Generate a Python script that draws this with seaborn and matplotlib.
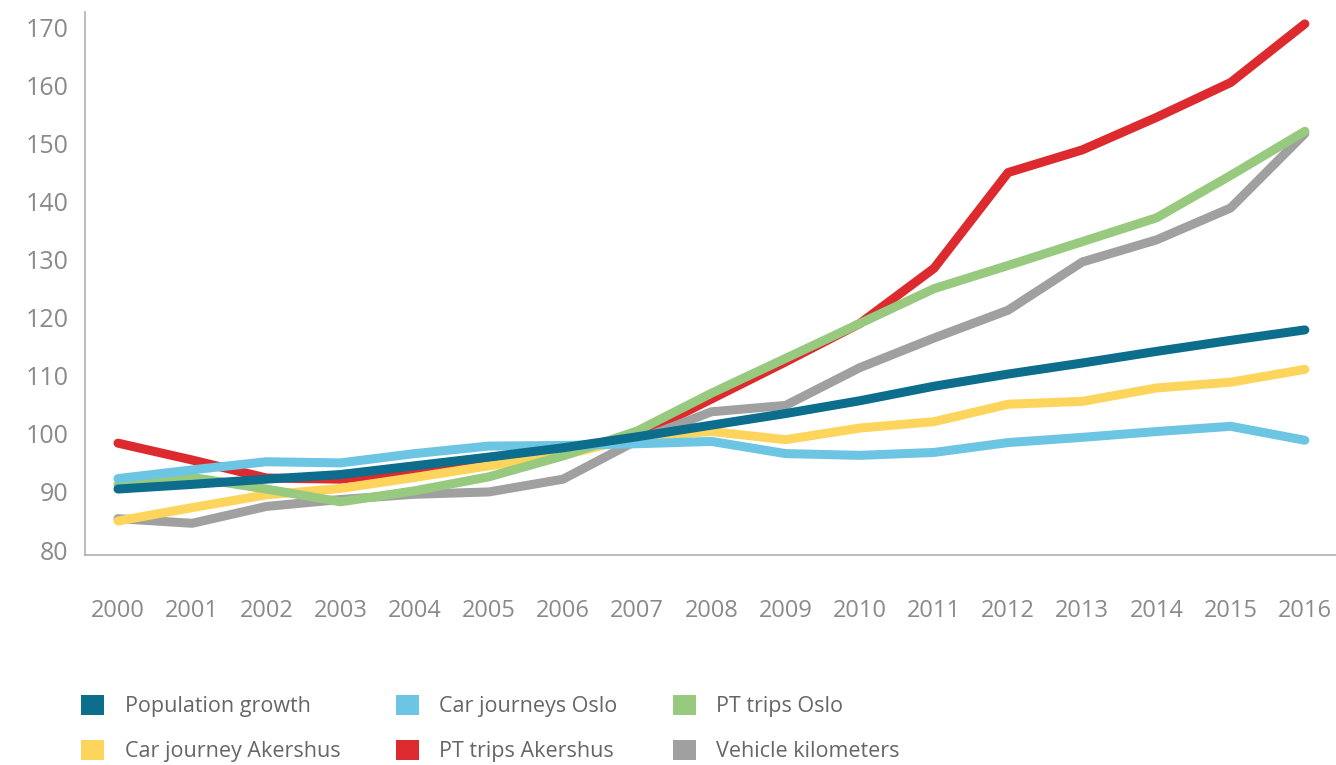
import matplotlib
matplotlib.use("Agg")
import matplotlib.pyplot as plt
from matplotlib.patches import Patch
import seaborn as sns
import pandas as pd

# Indeks (2007 = 100) for transport i Oslo og Akershus
years = list(range(2000, 2017))

population_growth = [90.5, 91.3, 92.2, 93.0, 94.5, 96.0, 97.6, 99.5, 101.5, 103.5,
                     105.7, 108.2, 110.3, 112.2, 114.2, 116.1, 117.9]
car_journeys_oslo = [92.3, 93.8, 95.2, 95.0, 96.6, 97.9, 98.0, 98.3, 98.7, 96.6,
                     96.3, 96.8, 98.5, 99.4, 100.4, 101.3, 98.9]
pt_trips_oslo = [91.2, 92.5, 90.5, 88.3, 90.2, 92.6, 96.2, 100.5, 107.0, 113.0,
                 119.0, 125.0, 129.0, 133.1, 137.2, 144.5, 152.1]
car_journey_akershus = [85.0, 87.3, 89.5, 90.6, 92.5, 94.5, 96.3, 99.5, 100.4, 99.0,
                        101.0, 102.1, 105.1, 105.6, 107.9, 108.9, 111.1]
pt_trips_akershus = [98.4, 95.5, 92.4, 92.2, 93.6, 95.5, 97.2, 99.6, 106.0, 112.4,
                     119.0, 128.5, 145.0, 148.9, 154.5, 160.5, 170.6]
vehicle_km = [85.4, 84.6, 87.5, 88.7, 89.6, 90.0, 92.2, 98.9, 103.8, 104.9,
              111.4, 116.5, 121.3, 129.6, 133.4, 138.9, 151.7]

labels = ["Population growth", "Car journeys Oslo", "PT trips Oslo",
          "Car journey Akershus", "PT trips Akershus", "Vehicle kilometers"]
colors = ["#0c6d8c", "#6cc5e3", "#97c97f", "#fdd55c", "#dd2a2e", "#a0a0a0"]
series = [population_growth, car_journeys_oslo, pt_trips_oslo,
          car_journey_akershus, pt_trips_akershus, vehicle_km]

# tegnerekkefolge: nederst forst
draw_order = ["PT trips Akershus", "Vehicle kilometers", "Car journey Akershus",
              "PT trips Oslo", "Car journeys Oslo", "Population growth"]

df = pd.DataFrame({"year": years})
for lab, vals in zip(labels, series):
    df[lab] = vals
df_long = df.melt(id_vars="year", var_name="serie", value_name="indeks")

sns.set_theme(style="white")
plt.rcParams["font.family"] = ["Open Sans", "DejaVu Sans"]

fig = plt.figure(figsize=(13.36, 7.65), dpi=100)
ax = fig.add_axes([0.0636, 0.2745, 0.9364, 0.7095])

palette = dict(zip(labels, colors))
for lab in draw_order:
    sns.lineplot(data=df_long[df_long["serie"] == lab], x="year", y="indeks",
                 color=palette[lab], linewidth=6.5, solid_capstyle="round",
                 solid_joinstyle="round", legend=False, ax=ax)

ax.set_xlim(1999.555, 2016.42)
ax.set_ylim(79.14, 172.6)
ax.set_xticks(years)
ax.set_yticks(range(80, 171, 10))
ax.set_xlabel("")
ax.set_ylabel("")

grey_text = "#8a8a8a"
ax.tick_params(axis="x", length=0, pad=32, labelsize=17, labelcolor=grey_text)
ax.tick_params(axis="y", length=0, pad=12, labelsize=18, labelcolor=grey_text)

for side in ["top", "right"]:
    ax.spines[side].set_visible(False)
for side in ["left", "bottom"]:
    ax.spines[side].set_color("#b0b0b0")
    ax.spines[side].set_linewidth(1.2)

# legenden fylles kolonnevis: to rader, tre kolonner
leg_idx = [0, 3, 1, 4, 2, 5]
handles = [Patch(facecolor=colors[i], edgecolor="none") for i in leg_idx]
leg_labels = [labels[i] for i in leg_idx]
fig.legend(handles, leg_labels, ncol=3, loc="upper left",
           bbox_to_anchor=(0.061, 0.092), bbox_transform=fig.transFigure,
           frameon=False, fontsize=15.5, handlelength=1.05, handleheight=1.05,
           handletextpad=0.95, columnspacing=2.6, labelspacing=1.05,
           labelcolor="#666666", borderaxespad=0, borderpad=0,
           prop={"family": ["Open Sans"], "size": 15.5})

fig.savefig("out.png", dpi=100)
